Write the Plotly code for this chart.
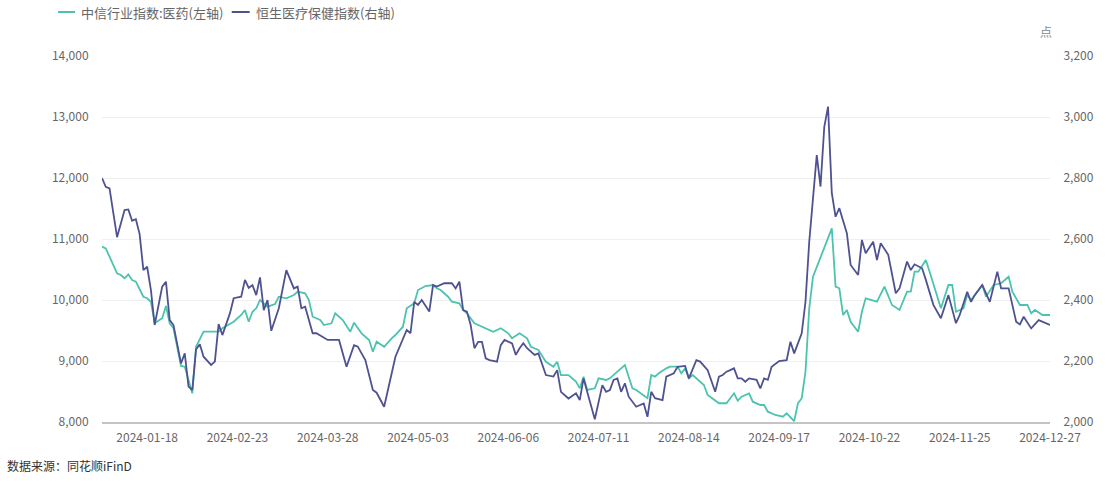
import plotly.graph_objects as go

# trading-day index (0 = first trading day of 2024) and values
citic_idx = [0, 1, 2, 4, 5, 6, 7, 8, 9, 11,
             12, 13, 14, 16, 17, 18, 19, 21, 22, 24,
             25, 26, 27, 31, 32, 35, 37, 38, 39, 40,
             41, 42, 44, 46, 47, 49, 51, 52, 54, 55,
             56, 58, 59, 61, 62, 64, 66, 67, 69, 71,
             72, 73, 75, 77, 78, 80, 81, 83, 84, 86,
             88, 89, 90, 92, 93, 95, 96, 97, 99, 100,
             102, 104, 106, 108, 109, 111, 113, 114, 116, 118,
             120, 121, 122, 124, 126, 127, 128, 129, 131, 132,
             134, 135, 137, 139, 141, 142, 145, 146, 147, 148,
             150, 151, 153, 154, 155, 156, 157, 160, 161, 164,
             166, 168, 169, 170, 172, 173, 175, 176, 177, 179,
             181, 182, 184, 185, 186, 187, 188, 189, 194, 195,
             196, 197, 198, 199, 201, 202, 203, 206, 208, 210,
             212, 214, 215, 216, 217, 219, 220, 222, 223, 225,
             226, 227, 229, 230, 231, 234, 235, 237, 239, 241,
             242, 244, 246, 247, 248, 250, 252]
citic_val = [10874, 10847, 10710, 10438, 10410, 10356, 10421, 10328, 10300, 10054,
             10028, 9972, 9618, 9700, 9902, 9618, 9536, 8918, 8907, 8470,
             9234, 9372, 9480, 9480, 9536, 9644, 9754, 9836, 9644, 9808,
             9864, 10000, 9890, 9934, 10054, 10028, 10082, 10136, 10110, 10000,
             9726, 9672, 9590, 9618, 9782, 9672, 9480, 9628, 9454, 9344,
             9152, 9316, 9234, 9372, 9426, 9562, 9864, 9946, 10164, 10229,
             10246, 10192, 10164, 10054, 9972, 9946, 9836, 9782, 9618, 9590,
             9536, 9480, 9536, 9454, 9372, 9454, 9372, 9234, 9180, 8988,
             8907, 8988, 8770, 8770, 8661, 8552, 8743, 8525, 8552, 8716,
             8689, 8716, 8825, 8934, 8552, 8525, 8389, 8770, 8743, 8798,
             8880, 8907, 8907, 8798, 8880, 8716, 8770, 8607, 8443, 8307,
             8307, 8470, 8350, 8415, 8470, 8333, 8279, 8279, 8169, 8115,
             8087, 8143, 8016, 8307, 8389, 8825, 9864, 10382, 11175, 10218,
             10192, 9754, 9836, 9644, 9480, 9808, 10028, 9972, 10218, 9918,
             9836, 10136, 10136, 10464, 10464, 10656, 10464, 10082, 9864, 10246,
             10246, 9808, 9864, 10082, 10000, 10246, 10054, 10246, 10274, 10382,
             10136, 9918, 9918, 9782, 9836, 9754, 9754]

hs_idx = [0, 1, 2, 4, 6, 7, 8, 9, 10, 11,
          12, 13, 14, 16, 17, 18, 19, 21, 22, 23,
          24, 25, 26, 27, 29, 30, 31, 32, 34, 35,
          37, 38, 39, 40, 41, 42, 43, 44, 45, 47,
          49, 51, 52, 53, 54, 56, 57, 60, 63, 65,
          67, 68, 70, 72, 73, 75, 78, 81, 82, 83,
          84, 85, 87, 88, 89, 91, 93, 94, 95, 96,
          97, 98, 99, 100, 101, 102, 103, 105, 106, 107,
          109, 110, 111, 112, 113, 115, 116, 117, 118, 120,
          121, 122, 124, 126, 127, 128, 129, 130, 131, 133,
          134, 135, 136, 137, 138, 139, 140, 142, 144, 145,
          146, 147, 149, 150, 152, 153, 155, 156, 158, 159,
          161, 163, 164, 165, 166, 167, 168, 169, 170, 171,
          172, 174, 175, 176, 177, 178, 180, 182, 183, 184,
          186, 187, 188, 190, 191, 192, 193, 194, 195, 196,
          198, 199, 201, 202, 203, 205, 206, 207, 209, 211,
          212, 214, 215, 216, 218, 219, 221, 223, 225, 227,
          228, 230, 231, 232, 234, 236, 238, 239, 241, 243,
          244, 245, 247, 249, 252]
hs_val = [2800, 2771, 2766, 2606, 2695, 2697, 2660, 2665, 2616, 2498,
          2509, 2433, 2318, 2444, 2460, 2334, 2318, 2192, 2225, 2116,
          2105, 2238, 2255, 2214, 2187, 2198, 2321, 2285, 2356, 2406,
          2411, 2466, 2440, 2449, 2416, 2474, 2367, 2400, 2299, 2373,
          2498, 2438, 2444, 2373, 2378, 2291, 2291, 2269, 2269, 2181,
          2252, 2247, 2203, 2105, 2096, 2050, 2214, 2302, 2291, 2394,
          2384, 2400, 2362, 2449, 2444, 2455, 2455, 2438, 2460, 2367,
          2362, 2318, 2242, 2263, 2263, 2209, 2203, 2198, 2252, 2269,
          2258, 2220, 2242, 2258, 2242, 2220, 2225, 2187, 2154, 2149,
          2170, 2099, 2077, 2094, 2072, 2143, 2099, 2050, 2009, 2121,
          2099, 2105, 2138, 2143, 2099, 2127, 2083, 2050, 2061, 2017,
          2099, 2078, 2072, 2149, 2160, 2181, 2184, 2143, 2203, 2198,
          2170, 2099, 2149, 2154, 2165, 2170, 2176, 2143, 2143, 2132,
          2143, 2138, 2110, 2143, 2138, 2181, 2200, 2203, 2263, 2225,
          2291, 2394, 2591, 2875, 2772, 2968, 3034, 2750, 2673, 2701,
          2619, 2515, 2482, 2597, 2553, 2591, 2531, 2586, 2548, 2422,
          2438, 2526, 2498, 2517, 2504, 2466, 2384, 2340, 2416, 2324,
          2351, 2427, 2394, 2416, 2449, 2394, 2493, 2438, 2438, 2329,
          2320, 2345, 2307, 2334, 2318]

tick_idx = [12, 36, 60, 84, 108, 132, 156, 180, 204, 228, 252]
tick_labels = ["2024-01-18", "2024-02-23", "2024-03-28", "2024-05-03", "2024-06-06",
               "2024-07-11", "2024-08-14", "2024-09-17", "2024-10-22", "2024-11-25",
               "2024-12-27"]

name_left = "中信行业指数:医药(左轴)"
name_right = "恒生医疗保健指数(右轴)"
teal = "#4cc3ae"
navy = "#4f5290"
font_family = "Noto Sans CJK SC"

fig = go.Figure()
fig.add_trace(go.Scatter(x=citic_idx, y=citic_val, mode="lines", name=name_left,
                         line=dict(color=teal, width=1.8), yaxis="y"))
fig.add_trace(go.Scatter(x=hs_idx, y=hs_val, mode="lines", name=name_right,
                         line=dict(color=navy, width=1.8), yaxis="y2"))

W, H = 1106, 486
L, R, T, B = 102, 54, 56, 64
pw, ph = W - L - R, H - T - B

def px(x):
    return (x - L) / pw

def py(y):
    return (H - B - y) / ph

fig.update_layout(
    width=W, height=H,
    margin=dict(l=L, r=R, t=T, b=B),
    paper_bgcolor="white", plot_bgcolor="white",
    font=dict(family=font_family, size=12, color="#666666"),
    showlegend=False,
    xaxis=dict(range=[0, 252], tickmode="array", tickvals=tick_idx, ticktext=tick_labels,
               showgrid=False, zeroline=False, showline=True, linecolor="#c4c4c4",
               linewidth=2, ticks="outside", ticklen=4, tickcolor="rgba(0,0,0,0)",
               tickfont=dict(size=12, color="#666666")),
    yaxis=dict(range=[8000, 14000], dtick=1000, tickformat=",", showgrid=True,
               gridcolor="#efefef", gridwidth=1, zeroline=False, showline=False,
               ticks="outside", ticklen=10, tickcolor="rgba(0,0,0,0)",
               tickfont=dict(size=12, color="#666666")),
    yaxis2=dict(range=[2000, 3200], dtick=200, tickformat=",", overlaying="y", side="right",
                showgrid=False, zeroline=False, showline=False,
                ticks="outside", ticklen=10, tickcolor="rgba(0,0,0,0)",
                tickfont=dict(size=12, color="#666666")),
)

# legend drawn manually
shapes = []
annotations = []
for x0, x1, color, text in [(58, 75, teal, name_left), (232, 250, navy, name_right)]:
    shapes.append(dict(type="line", xref="paper", yref="paper", x0=px(x0), x1=px(x1),
                       y0=py(12), y1=py(12), line=dict(color=color, width=2)))
    annotations.append(dict(xref="paper", yref="paper", x=px(x1 + 4), y=py(12), text=text,
                            showarrow=False, xanchor="left", yanchor="middle",
                            font=dict(size=13, color="#666666")))
annotations.append(dict(xref="paper", yref="paper", x=px(1048), y=py(32), text="点",
                        showarrow=False, xanchor="center", yanchor="middle",
                        font=dict(size=12, color="#888888")))
annotations.append(dict(xref="paper", yref="paper", x=px(5), y=py(466), text="数据来源：同花顺iFinD",
                        showarrow=False, xanchor="left", yanchor="middle",
                        font=dict(size=12, color="#333333")))
fig.update_layout(shapes=shapes, annotations=annotations)

fig.write_html("out.html", config={"displayModeBar": False},
               post_script="document.body.style.margin='0';document.body.style.overflow='hidden';")
